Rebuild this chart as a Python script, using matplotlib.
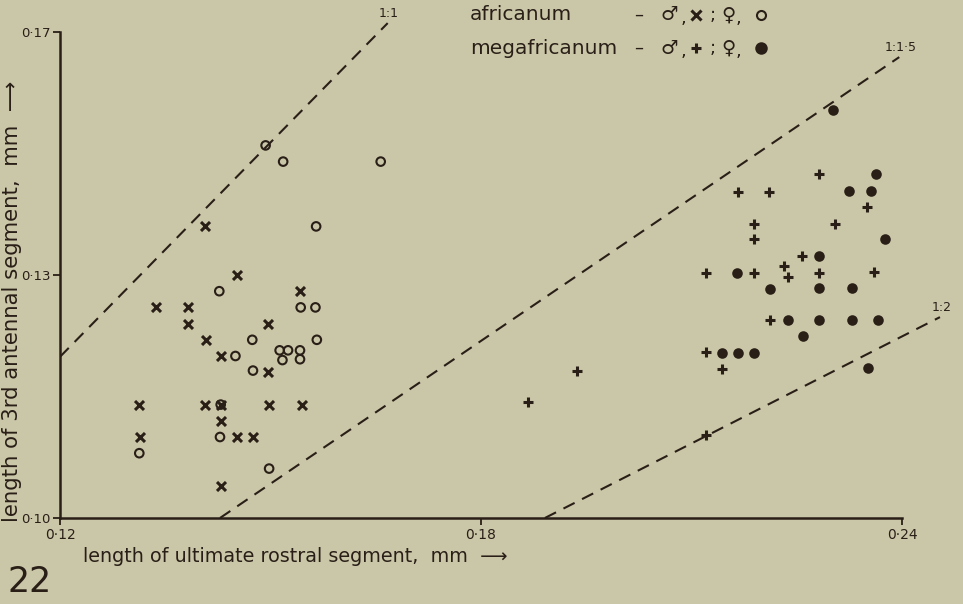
import matplotlib
matplotlib.use('Agg')
import matplotlib.pyplot as plt

# values (mm)
afr_male_x = [0.1407, 0.1452, 0.1542, 0.1337, 0.1382, 0.1383, 0.1497, 0.1408, 0.1429, 0.1497,
              0.1313, 0.1407, 0.1429, 0.1498, 0.1545, 0.1429, 0.1314, 0.1452, 0.1475, 0.1430]
afr_male_y = [0.136, 0.130, 0.128, 0.126, 0.126, 0.124, 0.124, 0.122, 0.120, 0.118,
              0.114, 0.114, 0.114, 0.114, 0.114, 0.112, 0.110, 0.110, 0.110, 0.104]
afr_female_x = [0.1493, 0.1518, 0.1657, 0.1565, 0.1427, 0.1543, 0.1564, 0.1474, 0.1566, 0.1450,
                0.1513, 0.1525, 0.1542, 0.1517, 0.1542, 0.1475, 0.1429, 0.1428, 0.1313, 0.1498]
afr_female_y = [0.146, 0.144, 0.144, 0.136, 0.128, 0.126, 0.126, 0.122, 0.122, 0.120,
                0.1207, 0.1207, 0.1207, 0.1195, 0.1196, 0.1182, 0.114, 0.110, 0.108, 0.1061]
meg_male_x = [0.2281, 0.2166, 0.2211, 0.2350, 0.2189, 0.2305, 0.2189, 0.2258, 0.2121, 0.2189,
              0.2232, 0.2238, 0.2282, 0.2360, 0.2212, 0.2120, 0.2144, 0.2121, 0.1937, 0.1867]
meg_male_y = [0.1425, 0.1403, 0.1403, 0.1384, 0.1363, 0.1363, 0.1344, 0.1323, 0.1303, 0.1303,
              0.1311, 0.1297, 0.1303, 0.1304, 0.1244, 0.1205, 0.1184, 0.1103, 0.1182, 0.1143]
meg_female_x = [0.2302, 0.2363, 0.2325, 0.2356, 0.2376, 0.2282, 0.2165, 0.2212, 0.2282, 0.2328,
                0.2237, 0.2282, 0.2328, 0.2366, 0.2259, 0.2144, 0.2166, 0.2189, 0.2351]
meg_female_y = [0.1504, 0.1425, 0.1404, 0.1404, 0.1344, 0.1323, 0.1302, 0.1283, 0.1284, 0.1284,
                0.1244, 0.1244, 0.1245, 0.1245, 0.1225, 0.1204, 0.1204, 0.1204, 0.1185]

# ratio lines as drawn (start, end)
ratio_labels = ['1:1', '1:1·5', '1:2']
ratio_x = [(0.1200, 0.1667), (0.1428, 0.2396), (0.1891, 0.2454)]
ratio_y = [(0.1199, 0.1611), (0.1000, 0.1569), (0.1000, 0.1248)]

xticks = [0.12, 0.18, 0.24]
xtick_labels = ['0·12', '0·18', '0·24']
yticks = [0.10, 0.13, 0.16]
ytick_labels = ['0·10', '0·13', '0·17']

BG = '#cac6a8'
INK = '#2a1f17'
W, H = 963, 604

fig = plt.figure(figsize=(W / 100, H / 100), dpi=100, facecolor=BG)
ax = fig.add_axes([60 / W, 86 / H, 894.7 / W, 510.3 / H])
ax.set_facecolor(BG)
ax.set_xlim(0.12, 0.2475)
ax.set_ylim(0.10, 0.163)

for xs, ys, lab in zip(ratio_x, ratio_y, ratio_labels):
    ax.plot(xs, ys, color=INK, lw=1.5, dashes=(6, 4), zorder=1)
    ax.annotate(lab, (xs[1], ys[1]), xytext=(1, 2), textcoords='offset points',
                ha='center', va='bottom', fontsize=9, color=INK, annotation_clip=False)

ax.scatter(afr_male_x, afr_male_y, marker='x', s=42, lw=2.2, color=INK, zorder=3)
ax.scatter(afr_female_x, afr_female_y, marker='o', s=38, lw=1.5, facecolor='none',
           edgecolor=INK, zorder=3)
ax.scatter(meg_male_x, meg_male_y, marker='+', s=60, lw=2.2, color=INK, zorder=3)
ax.scatter(meg_female_x, meg_female_y, marker='o', s=58, lw=0, color=INK, zorder=3)

for side in ['top', 'right']:
    ax.spines[side].set_visible(False)
for side in ['left', 'bottom']:
    ax.spines[side].set_linewidth(1.8)
    ax.spines[side].set_color(INK)
ax.spines['left'].set_bounds(0.10, 0.16)
ax.spines['bottom'].set_bounds(0.12, 0.24)
ax.set_xticks(xticks, xtick_labels)
ax.set_yticks(yticks, ytick_labels)
ax.tick_params(direction='out', length=5, width=1.3, color=INK, labelcolor=INK,
               labelsize=10, pad=2)
ax.tick_params(axis='y', labelsize=9.5, pad=1.5)

def ftext(px, py, s, **kw):
    kw.setdefault('color', INK)
    fig.text(px / W, 1 - py / H, s, **kw)

ftext(83, 557, 'length of ultimate rostral segment,  mm  ⟶', fontsize=13.8,
      ha='left', va='center')
ftext(12, 522, 'length of 3rd antennal segment,  mm  ⟶', fontsize=15.3,
      rotation=90, ha='center', va='bottom')
ftext(7, 599, '22', fontsize=25, ha='left', va='bottom')

# key at the top
ftext(470, 15, 'africanum', fontsize=14.5, ha='left', va='center')
ftext(470, 48, 'megafricanum', fontsize=14.5, ha='left', va='center')
for py in [15, 48]:
    ftext(639, py, '–', fontsize=13, ha='center', va='center')
    ftext(669, py, '♂', fontsize=14, ha='center', va='center')
    ftext(683, py + 3, ',', fontsize=13, ha='center', va='center')
    ftext(713, py, ';', fontsize=13, ha='center', va='center')
    ftext(728, py, '♀', fontsize=14, ha='center', va='center')
    ftext(738, py + 3, ',', fontsize=13, ha='center', va='center')
key = [(696, 15, 'x', 'full'), (761, 15, 'o', 'none'),
       (696, 48, '+', 'full'), (761, 48, 'o', 'full')]
for px, py, m, fill in key:
    fig.lines.append(plt.Line2D([px / W], [1 - py / H], transform=fig.transFigure,
                                marker=m, ms=6.5 if fill == 'none' else 7.5,
                                mew=2.2 if m in 'x+' else 1.5,
                                color=INK, fillstyle=fill, ls='none'))

fig.savefig('out.png', dpi=100, facecolor=BG)
